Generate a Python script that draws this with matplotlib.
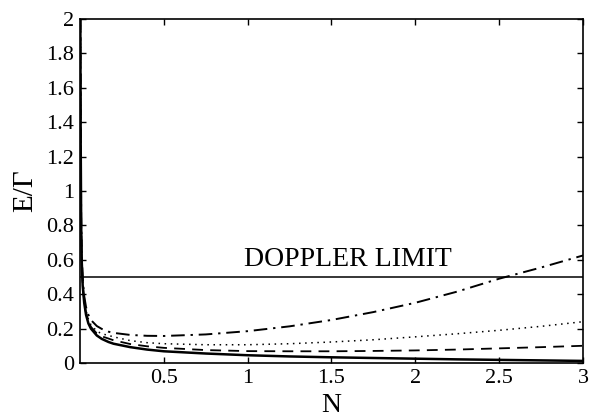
import matplotlib
matplotlib.use('Agg')
import matplotlib.pyplot as plt

plt.rcParams['font.family'] = ['Liberation Serif', 'DejaVu Serif']

# values
n_small = [0.002, 0.004, 0.007, 0.01, 0.016, 0.025, 0.036, 0.05, 0.065, 0.1, 0.13, 0.17, 0.2, 0.3, 0.4, 0.5]
n_big = [0.75, 1.0, 1.25, 1.5, 1.75, 2.0, 2.25, 2.5, 2.75, 3.0]
n_vals = n_small + n_big

solid = [2.0, 1.3, 0.8, 0.6, 0.45, 0.35, 0.28, 0.23, 0.2, 0.16, 0.14, 0.122, 0.112, 0.092, 0.078, 0.068,
         0.055, 0.045, 0.038, 0.033, 0.029, 0.025, 0.021, 0.018, 0.015, 0.012]
dashed = [2.0, 1.32, 0.82, 0.62, 0.46, 0.36, 0.29, 0.245, 0.21, 0.172, 0.155, 0.142, 0.132, 0.11, 0.097, 0.088,
          0.075, 0.069, 0.068, 0.068, 0.07, 0.073, 0.078, 0.085, 0.092, 0.1]
dotted = [2.0, 1.33, 0.83, 0.63, 0.47, 0.37, 0.305, 0.255, 0.222, 0.185, 0.17, 0.16, 0.152, 0.13, 0.118, 0.112,
          0.106, 0.106, 0.112, 0.122, 0.135, 0.152, 0.17, 0.19, 0.213, 0.24]
dashdot = [2.0, 1.35, 0.85, 0.65, 0.49, 0.39, 0.325, 0.28, 0.25, 0.215, 0.198, 0.182, 0.175, 0.163, 0.158, 0.157,
           0.166, 0.185, 0.213, 0.25, 0.296, 0.35, 0.415, 0.49, 0.555, 0.625]
doppler = 0.5

fig = plt.figure(figsize=(5.9, 4.19), dpi=100)
ax = fig.add_axes([0.1356, 0.1337, 0.8525, 0.821])

ax.plot(n_vals, solid, color='black', lw=1.8, ls='-')
ax.plot(n_vals, dashed, color='black', lw=1.3, ls=(0, (6, 4)))
ax.plot(n_vals, dotted, color='black', lw=1.1, ls=(0, (1, 3)))
ax.plot(n_vals, dashdot, color='black', lw=1.4, ls=(0, (7, 3, 1.2, 3)))
ax.axhline(doppler, color='black', lw=1.1)
ax.text(1.6, 0.6, 'DOPPLER LIMIT', fontsize=20, ha='center', va='center')

ax.set_xlim(0, 3)
ax.set_ylim(0, 2)
ax.set_xticks([0.5, 1, 1.5, 2, 2.5, 3])
ax.set_xticklabels(['0.5', '1', '1.5', '2', '2.5', '3'])
ax.set_yticks([0, 0.2, 0.4, 0.6, 0.8, 1, 1.2, 1.4, 1.6, 1.8, 2])
ax.set_yticklabels(['0', '0.2', '0.4', '0.6', '0.8', '1', '1.2', '1.4', '1.6', '1.8', '2'])
ax.tick_params(direction='in', top=True, right=True, labelsize=16, length=4, width=1, pad=4)
for s in ax.spines.values():
    s.set_linewidth(1.2)
ax.set_xlabel('N', fontsize=20, labelpad=4)
ax.set_ylabel('E/Γ', fontsize=21, labelpad=6)

fig.savefig('out.png', dpi=100)
